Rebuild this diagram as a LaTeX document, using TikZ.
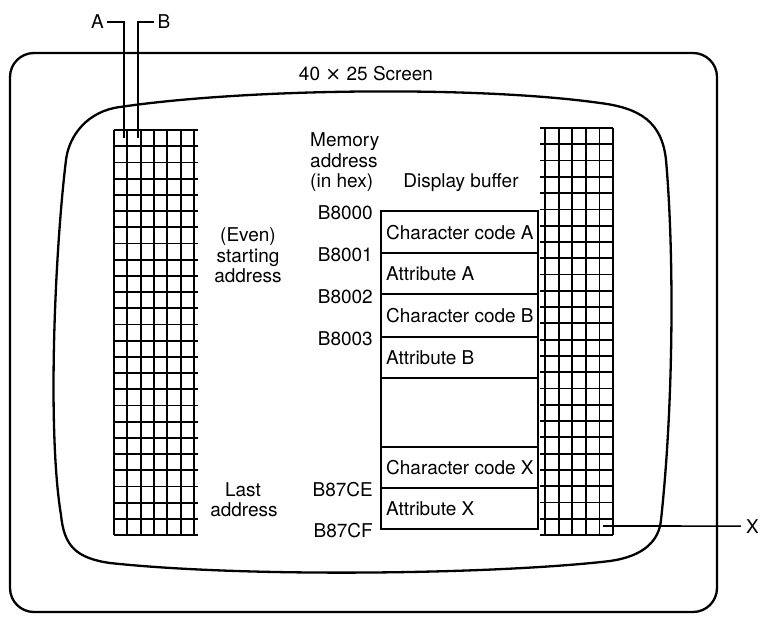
\documentclass[tikz,border=0pt]{standalone}
\usepackage{fontspec}
\setmainfont{TeX Gyre Heros}
\newfontfamily\symfam{DejaVu Sans}
\begin{document}
\begin{tikzpicture}[x=1pt,y=-1pt,
  lbl/.style={inner sep=0pt, font=\fontsize{19}{21}\selectfont},
  frameline/.style={line width=2.3pt},
  gridline/.style={line width=1.8pt},
  boxline/.style={line width=1.6pt},
  conn/.style={line width=1.6pt}]
\useasboundingbox (0,0) rectangle (762,618);
% outer monitor frame
\draw[frameline, rounded corners=24pt] (10,53) rectangle (717,612);
% screen outline
\draw[frameline] (120,107) .. controls (250,88) and (480,86) .. (600,103)
 .. controls (640,108) and (662,122) .. (666,160)
 .. controls (674,250) and (674,400) .. (661,520)
 .. controls (659,540) and (645,556) .. (610,561)
 .. controls (500,574) and (250,578) .. (110,563)
 .. controls (75,558) and (64,545) .. (61,515)
 .. controls (47,430) and (55,250) .. (66,160)
 .. controls (69,135) and (88,111) .. (120,107) -- cycle;
% left character grid (6 x 25)
\foreach \i in {0,...,25} \draw[gridline] (114,{130+\i*16.2}) -- (198,{130+\i*16.2});
\foreach \j in {0,...,6} \draw[gridline] ({114+\j*13.33},130) -- ({114+\j*13.33},535);
% right character grid (5 x 25)
\foreach \i in {0,...,25} \draw[gridline] (540,{128+\i*16.28}) -- (613,{128+\i*16.28});
\foreach \j in {0,...,5} \draw[gridline] ({545+\j*13.6},128) -- ({545+\j*13.6},535);
% display buffer
\draw[boxline] (381,211) rectangle (538,529);
\foreach \y in {253,294,337,378,447,488} \draw[boxline] (381,\y) -- (538,\y);
% titles
\node[lbl, anchor=base] (title) at (366,80) {40 {\symfam ×} 25 Screen};
\node[lbl, anchor=base west] (mem1) at (310,146) {Memory};
\node[lbl, anchor=base west] (mem2) at (310,167) {address};
\node[lbl, anchor=base west] (mem3) at (310,187) {(in hex)};
\node[lbl, anchor=base] (disp) at (461,187) {Display buffer};
\node[lbl, anchor=base] (even1) at (248,241) {(Even)};
\node[lbl, anchor=base] (even2) at (248,262) {starting};
\node[lbl, anchor=base] (even3) at (248,282) {address};
\node[lbl, anchor=base] (last1) at (243,496) {Last};
\node[lbl, anchor=base] (last2) at (244,516) {address};
% buffer contents
\node[lbl, anchor=base west] (ca) at (386,239) {Character code A};
\node[lbl, anchor=base west] (aa) at (386,280.5) {Attribute A};
\node[lbl, anchor=base west] (cb) at (386,322.5) {Character code B};
\node[lbl, anchor=base west] (ab) at (386,364.5) {Attribute B};
\node[lbl, anchor=base west] (cx) at (386,474.5) {Character code X};
\node[lbl, anchor=base west] (ax) at (386,515.5) {Attribute X};
% addresses
\node[lbl, anchor=base east] (ad0) at (373,219.5) {B8000};
\node[lbl, anchor=base east] (ad1) at (373,261) {B8001};
\node[lbl, anchor=base east] (ad2) at (373,303) {B8002};
\node[lbl, anchor=base east] (ad3) at (373,345) {B8003};
\node[lbl, anchor=base east] (ad4) at (373,496) {B87CE};
\node[lbl, anchor=base east] (ad5) at (373,537) {B87CF};
% pointer labels
\node[lbl, anchor=base] (A) at (97.5,29) {A};
\node[lbl, anchor=base] (B) at (164,29) {B};
\node[lbl, anchor=base] (X) at (752.5,533) {X};
\coordinate (acell) at (124,138);
\coordinate (bcell) at (138,138);
\coordinate (xcell) at (603,526);
\draw[conn] ([xshift=3pt]A.east) -| (acell);
\draw[conn] ([xshift=-3pt]B.west) -| (bcell);
\draw[conn] ([xshift=-5pt]X.west) -- (xcell);
\end{tikzpicture}
\end{document}
